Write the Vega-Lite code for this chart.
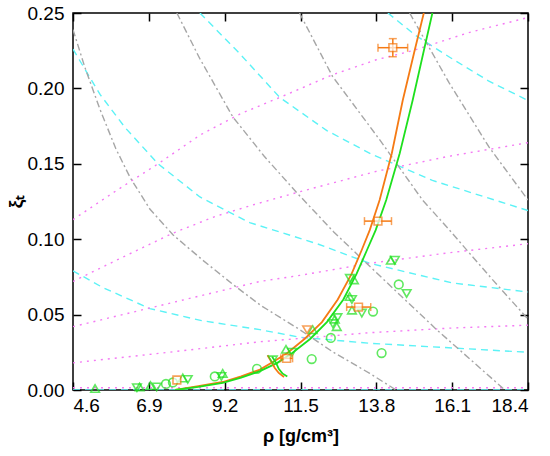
{
  "$schema": "https://vega.github.io/schema/vega-lite/v6.json",
  "width": 455,
  "height": 377,
  "autosize": "none",
  "padding": {"left": 73, "top": 13, "right": 22, "bottom": 66},
  "background": "white",
  "datasets": {
    "guides": [
      {"g": "A", "t": "cyan", "rho": 4.6, "xi": 0.226}, {"g": "A", "t": "cyan", "rho": 5.42, "xi": 0.196}, {"g": "A", "t": "cyan", "rho": 6.18, "xi": 0.174},
      {"g": "A", "t": "cyan", "rho": 7.18, "xi": 0.150}, {"g": "A", "t": "cyan", "rho": 8.45, "xi": 0.128}, {"g": "A", "t": "cyan", "rho": 9.96, "xi": 0.111},
      {"g": "A", "t": "cyan", "rho": 12.0, "xi": 0.097}, {"g": "A", "t": "cyan", "rho": 13.6, "xi": 0.084}, {"g": "A", "t": "cyan", "rho": 16.1, "xi": 0.071},
      {"g": "A", "t": "cyan", "rho": 18.4, "xi": 0.065},
      {"g": "B", "t": "cyan", "rho": 8.45, "xi": 0.25}, {"g": "B", "t": "cyan", "rho": 9.66, "xi": 0.223}, {"g": "B", "t": "cyan", "rho": 10.87, "xi": 0.194},
      {"g": "B", "t": "cyan", "rho": 12.3, "xi": 0.172}, {"g": "B", "t": "cyan", "rho": 13.69, "xi": 0.156}, {"g": "B", "t": "cyan", "rho": 15.5, "xi": 0.139},
      {"g": "B", "t": "cyan", "rho": 18.4, "xi": 0.119},
      {"g": "C", "t": "cyan", "rho": 14.15, "xi": 0.25}, {"g": "C", "t": "cyan", "rho": 15.0, "xi": 0.235}, {"g": "C", "t": "cyan", "rho": 16.0, "xi": 0.221},
      {"g": "C", "t": "cyan", "rho": 17.2, "xi": 0.205}, {"g": "C", "t": "cyan", "rho": 18.4, "xi": 0.192},
      {"g": "D", "t": "cyan", "rho": 4.6, "xi": 0.079}, {"g": "D", "t": "cyan", "rho": 5.5, "xi": 0.068}, {"g": "D", "t": "cyan", "rho": 6.93, "xi": 0.054},
      {"g": "D", "t": "cyan", "rho": 8.5, "xi": 0.046}, {"g": "D", "t": "cyan", "rho": 10.27, "xi": 0.040}, {"g": "D", "t": "cyan", "rho": 11.48, "xi": 0.035},
      {"g": "D", "t": "cyan", "rho": 13.6, "xi": 0.031}, {"g": "D", "t": "cyan", "rho": 16.0, "xi": 0.028}, {"g": "D", "t": "cyan", "rho": 18.4, "xi": 0.025},
      {"g": "E", "t": "cyan", "rho": 4.6, "xi": 0.0}, {"g": "E", "t": "cyan", "rho": 18.4, "xi": 0.0},
      {"g": "M1", "t": "magenta", "rho": 4.6, "xi": 0.113}, {"g": "M1", "t": "magenta", "rho": 5.9, "xi": 0.132}, {"g": "M1", "t": "magenta", "rho": 7.18, "xi": 0.150},
      {"g": "M1", "t": "magenta", "rho": 8.45, "xi": 0.169}, {"g": "M1", "t": "magenta", "rho": 9.66, "xi": 0.183}, {"g": "M1", "t": "magenta", "rho": 10.87, "xi": 0.194},
      {"g": "M1", "t": "magenta", "rho": 12.47, "xi": 0.209}, {"g": "M1", "t": "magenta", "rho": 13.8, "xi": 0.219}, {"g": "M1", "t": "magenta", "rho": 14.9, "xi": 0.225},
      {"g": "M1", "t": "magenta", "rho": 16.6, "xi": 0.237}, {"g": "M1", "t": "magenta", "rho": 18.4, "xi": 0.247},
      {"g": "M2", "t": "magenta", "rho": 4.6, "xi": 0.072}, {"g": "M2", "t": "magenta", "rho": 6.1, "xi": 0.088}, {"g": "M2", "t": "magenta", "rho": 7.63, "xi": 0.104},
      {"g": "M2", "t": "magenta", "rho": 8.9, "xi": 0.115}, {"g": "M2", "t": "magenta", "rho": 10.1, "xi": 0.123}, {"g": "M2", "t": "magenta", "rho": 11.4, "xi": 0.131},
      {"g": "M2", "t": "magenta", "rho": 13.8, "xi": 0.145}, {"g": "M2", "t": "magenta", "rho": 16.0, "xi": 0.155}, {"g": "M2", "t": "magenta", "rho": 18.4, "xi": 0.164},
      {"g": "M3", "t": "magenta", "rho": 4.6, "xi": 0.042}, {"g": "M3", "t": "magenta", "rho": 7.24, "xi": 0.056}, {"g": "M3", "t": "magenta", "rho": 10.27, "xi": 0.072},
      {"g": "M3", "t": "magenta", "rho": 11.48, "xi": 0.076}, {"g": "M3", "t": "magenta", "rho": 13.6, "xi": 0.084}, {"g": "M3", "t": "magenta", "rho": 16.0, "xi": 0.091},
      {"g": "M3", "t": "magenta", "rho": 18.4, "xi": 0.097},
      {"g": "M4", "t": "magenta", "rho": 4.6, "xi": 0.018}, {"g": "M4", "t": "magenta", "rho": 7.5, "xi": 0.025}, {"g": "M4", "t": "magenta", "rho": 10.27, "xi": 0.032},
      {"g": "M4", "t": "magenta", "rho": 13.6, "xi": 0.038}, {"g": "M4", "t": "magenta", "rho": 16.0, "xi": 0.041}, {"g": "M4", "t": "magenta", "rho": 18.4, "xi": 0.043},
      {"g": "M5", "t": "magenta", "rho": 4.6, "xi": 0.0015}, {"g": "M5", "t": "magenta", "rho": 18.4, "xi": 0.0015},
      {"g": "G1", "t": "gray", "rho": 4.6, "xi": 0.239}, {"g": "G1", "t": "gray", "rho": 4.96, "xi": 0.214}, {"g": "G1", "t": "gray", "rho": 5.42, "xi": 0.186},
      {"g": "G1", "t": "gray", "rho": 5.9, "xi": 0.160}, {"g": "G1", "t": "gray", "rho": 6.33, "xi": 0.141}, {"g": "G1", "t": "gray", "rho": 6.93, "xi": 0.120},
      {"g": "G1", "t": "gray", "rho": 7.63, "xi": 0.103}, {"g": "G1", "t": "gray", "rho": 8.54, "xi": 0.086}, {"g": "G1", "t": "gray", "rho": 9.45, "xi": 0.070},
      {"g": "G1", "t": "gray", "rho": 10.3, "xi": 0.056}, {"g": "G1", "t": "gray", "rho": 11.48, "xi": 0.040}, {"g": "G1", "t": "gray", "rho": 12.5, "xi": 0.025},
      {"g": "G1", "t": "gray", "rho": 13.6, "xi": 0.011}, {"g": "G1", "t": "gray", "rho": 14.4, "xi": 0.0},
      {"g": "G2", "t": "gray", "rho": 7.75, "xi": 0.25}, {"g": "G2", "t": "gray", "rho": 8.44, "xi": 0.220}, {"g": "G2", "t": "gray", "rho": 9.45, "xi": 0.181},
      {"g": "G2", "t": "gray", "rho": 10.4, "xi": 0.155}, {"g": "G2", "t": "gray", "rho": 11.38, "xi": 0.131}, {"g": "G2", "t": "gray", "rho": 12.5, "xi": 0.105},
      {"g": "G2", "t": "gray", "rho": 13.6, "xi": 0.082}, {"g": "G2", "t": "gray", "rho": 15.63, "xi": 0.040}, {"g": "G2", "t": "gray", "rho": 17.7, "xi": 0.0},
      {"g": "G3", "t": "gray", "rho": 11.47, "xi": 0.25}, {"g": "G3", "t": "gray", "rho": 12.47, "xi": 0.208}, {"g": "G3", "t": "gray", "rho": 13.9, "xi": 0.166},
      {"g": "G3", "t": "gray", "rho": 15.2, "xi": 0.126}, {"g": "G3", "t": "gray", "rho": 16.02, "xi": 0.106}, {"g": "G3", "t": "gray", "rho": 17.33, "xi": 0.073},
      {"g": "G3", "t": "gray", "rho": 18.4, "xi": 0.047},
      {"g": "G4", "t": "gray", "rho": 14.81, "xi": 0.25}, {"g": "G4", "t": "gray", "rho": 16.0, "xi": 0.204}, {"g": "G4", "t": "gray", "rho": 17.22, "xi": 0.161},
      {"g": "G4", "t": "gray", "rho": 18.4, "xi": 0.126}
    ],
    "fits": [
      {"s": "o", "rho": 7.7, "xi": 0.0}, {"s": "o", "rho": 8.4, "xi": 0.0025}, {"s": "o", "rho": 9.14, "xi": 0.0053}, {"s": "o", "rho": 9.7, "xi": 0.009},
      {"s": "o", "rho": 10.27, "xi": 0.0135}, {"s": "o", "rho": 10.7, "xi": 0.019}, {"s": "o", "rho": 11.1, "xi": 0.0245}, {"s": "o", "rho": 11.63, "xi": 0.034},
      {"s": "o", "rho": 12.15, "xi": 0.045}, {"s": "o", "rho": 12.63, "xi": 0.060}, {"s": "o", "rho": 13.05, "xi": 0.077}, {"s": "o", "rho": 13.36, "xi": 0.093},
      {"s": "o", "rho": 13.6, "xi": 0.106}, {"s": "o", "rho": 13.9, "xi": 0.126}, {"s": "o", "rho": 14.27, "xi": 0.157}, {"s": "o", "rho": 14.6, "xi": 0.192},
      {"s": "o", "rho": 14.96, "xi": 0.225}, {"s": "o", "rho": 15.24, "xi": 0.25},
      {"s": "g", "rho": 7.7, "xi": 0.0}, {"s": "g", "rho": 8.4, "xi": 0.002}, {"s": "g", "rho": 9.14, "xi": 0.0048}, {"s": "g", "rho": 9.7, "xi": 0.0082},
      {"s": "g", "rho": 10.27, "xi": 0.0125}, {"s": "g", "rho": 10.8, "xi": 0.018}, {"s": "g", "rho": 11.25, "xi": 0.0245}, {"s": "g", "rho": 11.8, "xi": 0.034},
      {"s": "g", "rho": 12.3, "xi": 0.045}, {"s": "g", "rho": 12.8, "xi": 0.060}, {"s": "g", "rho": 13.2, "xi": 0.077}, {"s": "g", "rho": 13.52, "xi": 0.093},
      {"s": "g", "rho": 13.78, "xi": 0.106}, {"s": "g", "rho": 14.1, "xi": 0.126}, {"s": "g", "rho": 14.51, "xi": 0.157}, {"s": "g", "rho": 14.9, "xi": 0.192},
      {"s": "g", "rho": 15.24, "xi": 0.225}, {"s": "g", "rho": 15.5, "xi": 0.25},
      {"s": "oarc", "rho": 10.5, "xi": 0.023}, {"s": "oarc", "rho": 10.62, "xi": 0.0186}, {"s": "oarc", "rho": 10.72, "xi": 0.0146},
      {"s": "oarc", "rho": 10.84, "xi": 0.0113}, {"s": "oarc", "rho": 11.0, "xi": 0.0086},
      {"s": "garc", "rho": 10.64, "xi": 0.022}, {"s": "garc", "rho": 10.76, "xi": 0.018}, {"s": "garc", "rho": 10.84, "xi": 0.014},
      {"s": "garc", "rho": 10.95, "xi": 0.011}, {"s": "garc", "rho": 11.1, "xi": 0.009}
    ],
    "pts": [
      {"rho": 5.27, "xi": 0.001, "k": "u"}, {"rho": 6.54, "xi": 0.0015, "k": "d"}, {"rho": 6.62, "xi": 0.002, "k": "u"},
      {"rho": 6.95, "xi": 0.003, "k": "u"}, {"rho": 7.14, "xi": 0.002, "k": "d"}, {"rho": 7.42, "xi": 0.004, "k": "c"},
      {"rho": 7.63, "xi": 0.005, "k": "c"}, {"rho": 7.93, "xi": 0.008, "k": "u"}, {"rho": 8.08, "xi": 0.007, "k": "d"},
      {"rho": 8.9, "xi": 0.009, "k": "c"}, {"rho": 9.14, "xi": 0.011, "k": "u"}, {"rho": 9.1, "xi": 0.009, "k": "d"},
      {"rho": 10.18, "xi": 0.014, "k": "c"}, {"rho": 10.66, "xi": 0.020, "k": "d"}, {"rho": 11.06, "xi": 0.027, "k": "u"},
      {"rho": 11.24, "xi": 0.025, "k": "d"}, {"rho": 11.84, "xi": 0.0205, "k": "c"}, {"rho": 11.87, "xi": 0.040, "k": "u"},
      {"rho": 12.42, "xi": 0.0345, "k": "c"}, {"rho": 12.54, "xi": 0.047, "k": "u"}, {"rho": 12.62, "xi": 0.048, "k": "d"},
      {"rho": 12.48, "xi": 0.044, "k": "d"}, {"rho": 12.6, "xi": 0.042, "k": "u"}, {"rho": 12.99, "xi": 0.062, "k": "u"},
      {"rho": 13.06, "xi": 0.060, "k": "d"}, {"rho": 13.06, "xi": 0.053, "k": "u"}, {"rho": 13.36, "xi": 0.051, "k": "d"},
      {"rho": 13.7, "xi": 0.052, "k": "c"}, {"rho": 13.0, "xi": 0.074, "k": "d"}, {"rho": 13.12, "xi": 0.073, "k": "u"},
      {"rho": 14.24, "xi": 0.086, "k": "u"}, {"rho": 14.36, "xi": 0.086, "k": "d"}, {"rho": 14.48, "xi": 0.070, "k": "c"},
      {"rho": 14.72, "xi": 0.064, "k": "d"}, {"rho": 13.96, "xi": 0.0245, "k": "c"}
    ],
    "orange": [
      {"rho": 7.75, "xi": 0.0066, "xlo": 7.75, "xhi": 7.75, "ylo": 0.0066, "yhi": 0.0066},
      {"rho": 11.08, "xi": 0.021, "xlo": 10.9, "xhi": 11.26, "ylo": 0.021, "yhi": 0.021},
      {"rho": 13.26, "xi": 0.055, "xlo": 12.9, "xhi": 13.63, "ylo": 0.055, "yhi": 0.055},
      {"rho": 13.85, "xi": 0.112, "xlo": 13.44, "xhi": 14.26, "ylo": 0.112, "yhi": 0.112},
      {"rho": 14.3, "xi": 0.227, "xlo": 13.85, "xhi": 14.75, "ylo": 0.221, "yhi": 0.233}
    ],
    "otri": [
      {"rho": 11.7, "xi": 0.040}
    ]
  },
  "config": {
    "view": {"stroke": "black", "strokeWidth": 1.5},
    "axis": {
      "grid": false,
      "domain": false,
      "labelFont": "Liberation Sans",
      "labelFontSize": 19,
      "labelColor": "black",
      "tickColor": "black",
      "tickWidth": 1.5,
      "tickSize": -8,
      "titleFont": "Liberation Sans",
      "titleFontSize": 18,
      "titleFontWeight": "bold",
      "titleColor": "black"
    }
  },
  "resolve": {"scale": {"color": "independent", "strokeDash": "independent"}},
  "layer": [
    {
      "data": {"name": "guides"},
      "mark": {"type": "line", "strokeWidth": 1.4, "clip": true},
      "encoding": {
        "x": {
          "field": "rho", "type": "quantitative",
          "scale": {"domain": [4.6, 18.4], "nice": false, "zero": false},
          "axis": {"orient": "top", "values": [4.6, 6.9, 9.2, 11.5, 13.8, 16.1, 18.4], "labels": false, "title": null}
        },
        "y": {
          "field": "xi", "type": "quantitative",
          "scale": {"domain": [0, 0.25], "nice": false},
          "axis": {"orient": "right", "values": [0, 0.05, 0.1, 0.15, 0.2, 0.25], "labels": false, "title": null}
        },
        "detail": {"field": "g"},
        "color": {
          "field": "t", "type": "nominal", "legend": null,
          "scale": {"domain": ["cyan", "magenta", "gray"], "range": ["#5CF2F6", "#F47AF4", "#A6A6A6"]}
        },
        "strokeDash": {
          "field": "t", "type": "nominal", "legend": null,
          "scale": {"domain": ["cyan", "magenta", "gray"], "range": [[7, 5], [2, 5], [7, 3, 2, 3]]}
        }
      }
    },
    {
      "data": {"name": "fits"},
      "mark": {"type": "line", "strokeWidth": 1.8, "clip": true},
      "encoding": {
        "x": {
          "field": "rho", "type": "quantitative",
          "axis": {"orient": "bottom", "values": [4.6, 6.9, 9.2, 11.5, 13.8, 16.1, 18.4], "format": ".1f", "labelPadding": 14, "title": "ρ [g/cm³]", "titlePadding": 12}
        },
        "y": {
          "field": "xi", "type": "quantitative",
          "axis": {"orient": "left", "values": [0, 0.05, 0.1, 0.15, 0.2, 0.25], "format": ".2f", "labelPadding": 17, "title": "ξₜ", "titleFontSize": 19, "titlePadding": 2}
        },
        "detail": {"field": "s"},
        "color": {
          "field": "s", "type": "nominal", "legend": null,
          "scale": {"domain": ["o", "g", "oarc", "garc"], "range": ["#F57A14", "#1EE01E", "#F57A14", "#1EE01E"]}
        }
      }
    },
    {
      "data": {"name": "pts"},
      "mark": {"type": "point", "filled": false, "strokeWidth": 1.6, "color": "#1EE01E", "size": 75},
      "encoding": {
        "x": {"field": "rho", "type": "quantitative", "axis": null},
        "y": {"field": "xi", "type": "quantitative", "axis": null},
        "shape": {
          "field": "k", "type": "nominal", "legend": null,
          "scale": {"domain": ["c", "u", "d"], "range": ["circle", "triangle-up", "triangle-down"]}
        }
      }
    },
    {
      "data": {"name": "otri"},
      "mark": {"type": "point", "filled": false, "strokeWidth": 1.6, "color": "#F57A14", "size": 75, "shape": "triangle-down"},
      "encoding": {
        "x": {"field": "rho", "type": "quantitative", "axis": null},
        "y": {"field": "xi", "type": "quantitative", "axis": null}
      }
    },
    {
      "data": {"name": "orange"},
      "mark": {"type": "rule", "color": "#F57A14", "strokeWidth": 1.5},
      "encoding": {
        "x": {"field": "xlo", "type": "quantitative", "axis": null},
        "x2": {"field": "xhi"},
        "y": {"field": "xi", "type": "quantitative", "axis": null}
      }
    },
    {
      "data": {"name": "orange"},
      "mark": {"type": "rule", "color": "#F57A14", "strokeWidth": 1.5},
      "encoding": {
        "x": {"field": "rho", "type": "quantitative", "axis": null},
        "y": {"field": "ylo", "type": "quantitative", "axis": null},
        "y2": {"field": "yhi"}
      }
    },
    {
      "data": {"name": "orange"},
      "transform": [{"filter": "datum.xhi > datum.xlo"}, {"fold": ["xlo", "xhi"], "as": ["end", "xe"]}],
      "mark": {"type": "tick", "orient": "vertical", "color": "#F57A14", "thickness": 1.5, "size": 8},
      "encoding": {
        "x": {"field": "xe", "type": "quantitative", "axis": null},
        "y": {"field": "xi", "type": "quantitative", "axis": null}
      }
    },
    {
      "data": {"name": "orange"},
      "transform": [{"filter": "datum.yhi > datum.ylo"}, {"fold": ["ylo", "yhi"], "as": ["end", "ye"]}],
      "mark": {"type": "tick", "orient": "horizontal", "color": "#F57A14", "thickness": 1.5, "size": 8},
      "encoding": {
        "x": {"field": "rho", "type": "quantitative", "axis": null},
        "y": {"field": "ye", "type": "quantitative", "axis": null}
      }
    },
    {
      "data": {"name": "orange"},
      "mark": {"type": "point", "shape": "square", "filled": true, "fill": "white", "stroke": "#F57A14", "strokeWidth": 1.6, "size": 60},
      "encoding": {
        "x": {"field": "rho", "type": "quantitative", "axis": null},
        "y": {"field": "xi", "type": "quantitative", "axis": null}
      }
    }
  ]
}
